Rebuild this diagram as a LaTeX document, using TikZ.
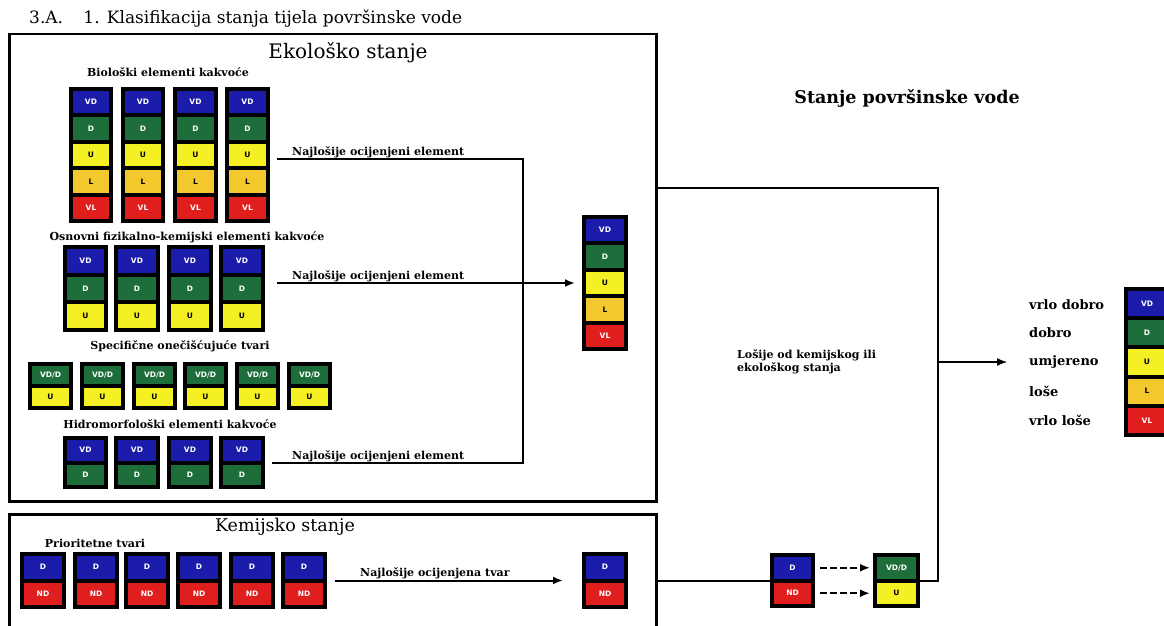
\documentclass[tikz,border=0pt]{standalone}
\usepackage{fontspec}
\setmainfont{DejaVu Serif}
\setsansfont{DejaVu Sans}
\usetikzlibrary{arrows.meta}
\definecolor{cblue}{RGB}{28,28,170}
\definecolor{cgreen}{RGB}{30,110,60}
\definecolor{cyellow}{RGB}{245,240,35}
\definecolor{corange}{RGB}{242,200,45}
\definecolor{cred}{RGB}{225,30,30}
\tikzset{
  stackbg/.style={fill=black, inner sep=0pt, outer sep=0pt},
  cellbox/.style={inner sep=0pt, outer sep=0pt, font=\sffamily\bfseries\fontsize{7.5}{7.5}\selectfont},
  applystyle/.style={#1},
  cvd/.style={fill=cblue, text=white, node contents={VD}},
  cd/.style={fill=cgreen, text=white, node contents={D}},
  cu/.style={fill=cyellow, text=black, node contents={U}},
  cl/.style={fill=corange, text=black, node contents={L}},
  cvl/.style={fill=cred, text=white, node contents={VL}},
  cvdd/.style={fill=cgreen, text=white, node contents={VD/D}},
  cdb/.style={fill=cblue, text=white, node contents={D}},
  cnd/.style={fill=cred, text=white, node contents={ND}},
  lbl/.style={font=\bfseries\fontsize{11}{13}\selectfont, inner sep=0pt},
  legendlbl/.style={font=\bfseries\fontsize{13}{14}\selectfont, inner sep=0pt, anchor=west},
  conn/.style={line width=2pt},
  thinconn/.style={line width=1.3pt},
  framebox/.style={draw, line width=2.5pt, inner sep=0pt, anchor=north west},
  tip/.style={-{Latex[length=10pt,width=8pt]}},
  dashconn/.style={line width=2pt, dash pattern=on 7pt off 3pt},
}
\newcommand\stack[6]{%
  \foreach \c [count=\k] in {#6} {\xdef\stN{\k}}%
  \pgfmathsetmacro\stP{(#5-4)/\stN}%
  \pgfmathsetmacro\stCW{#4-8}%
  \pgfmathsetmacro\stCH{\stP-4}%
  \node (#1) at (#2,#3) [stackbg, anchor=north west, minimum width=#4pt, minimum height=#5pt] {};%
  \foreach \c [count=\k from 0] in {#6} {%
    \pgfmathsetmacro\stY{#3+4+\k*\stP}%
    \node (#1-\k) at (#2+4,\stY) [cellbox, anchor=north west, minimum width=\stCW pt, minimum height=\stCH pt, applystyle/.expand once=\c];%
  }%
}
\begin{document}
\begin{tikzpicture}[x=1pt,y=-1pt]
\path[use as bounding box, clip] (0,0) rectangle (1164,626);
\fill[white] (0,0) rectangle (1164,626);

% title
\node (title) at (29,24) [anchor=base west, inner sep=0pt, font=\fontsize{17}{20}\selectfont] {3.A.\hspace{1.2em}1. Klasifikacija stanja tijela površinske vode};

% ecological frame
\node (eco) at (8,33) [framebox, minimum width=647pt, minimum height=467pt] {};
\node (ecot) at (348,53) [inner sep=0pt, font=\fontsize{20}{22}\selectfont] {Ekološko stanje};

\node (biot) at (168,72) [lbl] {Biološki elementi kakvoće};
\stack{b1}{69}{87}{44}{136}{cvd,cd,cu,cl,cvl}
\stack{b2}{121}{87}{44}{136}{cvd,cd,cu,cl,cvl}
\stack{b3}{173}{87}{45}{136}{cvd,cd,cu,cl,cvl}
\stack{b4}{225}{87}{45}{136}{cvd,cd,cu,cl,cvl}

\node (fkt) at (187,237) [lbl] {Osnovni fizikalno-kemijski elementi kakvoće};
\stack{f1}{63}{245}{45}{87}{cvd,cd,cu}
\stack{f2}{114}{245}{46}{87}{cvd,cd,cu}
\stack{f3}{167}{245}{46}{87}{cvd,cd,cu}
\stack{f4}{219}{245}{46}{87}{cvd,cd,cu}

\node (spt) at (180,346) [lbl] {Specifične onečišćujuće tvari};
\stack{s1}{28}{362}{45}{48}{cvdd,cu}
\stack{s2}{80}{362}{45}{48}{cvdd,cu}
\stack{s3}{132}{362}{45}{48}{cvdd,cu}
\stack{s4}{183}{362}{45}{48}{cvdd,cu}
\stack{s5}{235}{362}{45}{48}{cvdd,cu}
\stack{s6}{287}{362}{45}{48}{cvdd,cu}

\node (hmt) at (170,424) [lbl] {Hidromorfološki elementi kakvoće};
\stack{h1}{63}{436}{45}{53}{cvd,cd}
\stack{h2}{114}{436}{46}{53}{cvd,cd}
\stack{h3}{167}{436}{46}{53}{cvd,cd}
\stack{h4}{219}{436}{46}{53}{cvd,cd}

\stack{r}{582}{215}{46}{136}{cvd,cd,cu,cl,cvl}

\coordinate (c1) at (277,159);
\coordinate (c1e) at (523,159);
\coordinate (c2) at (277,283);
\coordinate (c3) at (272,463);
\coordinate (c3e) at (523,463);
\draw[conn] (c1) -- (c1e) -- (c3e) -- (c3);
\draw[conn, tip, shorten >=7pt] (c2) -- (r.west);
\node (n1) at (292,155) [lbl, anchor=base west] {Najlošije ocijenjeni element};
\node (n2) at (292,279) [lbl, anchor=base west] {Najlošije ocijenjeni element};
\node (n3) at (292,459) [lbl, anchor=base west] {Najlošije ocijenjeni element};

% right part
\node (sp) at (907,98) [inner sep=0pt, font=\bfseries\fontsize{17.5}{19}\selectfont] {Stanje površinske vode};
\node (los) at (737,362) [lbl, anchor=west, align=left] {Lošije od kemijskog ili\\ekološkog stanja};
\node (l1) at (1029,305) [legendlbl] {vrlo dobro};
\node (l2) at (1029,333) [legendlbl] {dobro};
\node (l3) at (1029,362) [legendlbl] {umjereno};
\node (l4) at (1029,391) [legendlbl] {loše};
\node (l5) at (1029,420) [legendlbl] {vrlo loše};
\stack{lg}{1124}{287}{46}{150}{cvd,cd,cu,cl,cvl}

% chemical frame
\node (chem) at (8,513) [framebox, minimum width=647pt, minimum height=130pt] {};
\node (chemt) at (285,527) [inner sep=0pt, font=\fontsize{17.5}{20}\selectfont] {Kemijsko stanje};
\node (prt) at (95,543) [lbl] {Prioritetne tvari};
\stack{p1}{20}{552}{46}{57}{cdb,cnd}
\stack{p2}{73}{552}{46}{57}{cdb,cnd}
\stack{p3}{124}{552}{46}{57}{cdb,cnd}
\stack{p4}{176}{552}{46}{57}{cdb,cnd}
\stack{p5}{229}{552}{46}{57}{cdb,cnd}
\stack{p6}{281}{552}{46}{57}{cdb,cnd}
\stack{pr}{582}{552}{46}{57}{cdb,cnd}
\coordinate (ca) at (335,580.5);
\draw[conn, tip, shorten >=19pt] (ca) -- (pr.west);
\node (nt) at (360,576) [lbl, anchor=base west] {Najlošije ocijenjena tvar};

\stack{cs}{770}{553}{45}{55}{cdb,cnd}
\stack{fin}{873}{553}{47}{55}{cvdd,cu}
\draw[conn] (chem.east |- cs.west) -- (cs.west);
\draw[dashconn, tip, shorten <=5pt, shorten >=3pt] (cs.east |- cs-0) -- (fin.west |- cs-0);
\draw[dashconn, tip, shorten <=5pt, shorten >=3pt] (cs.east |- cs-1) -- (fin.west |- cs-1);

\coordinate (j1) at (938,188);
\coordinate (j2) at (938,362);
\draw[conn] (eco.east |- j1) -- (j1) |- (fin.east);
\draw[thinconn, tip, shorten >=22pt] (j2) -- (l3.west);
\end{tikzpicture}
\end{document}
